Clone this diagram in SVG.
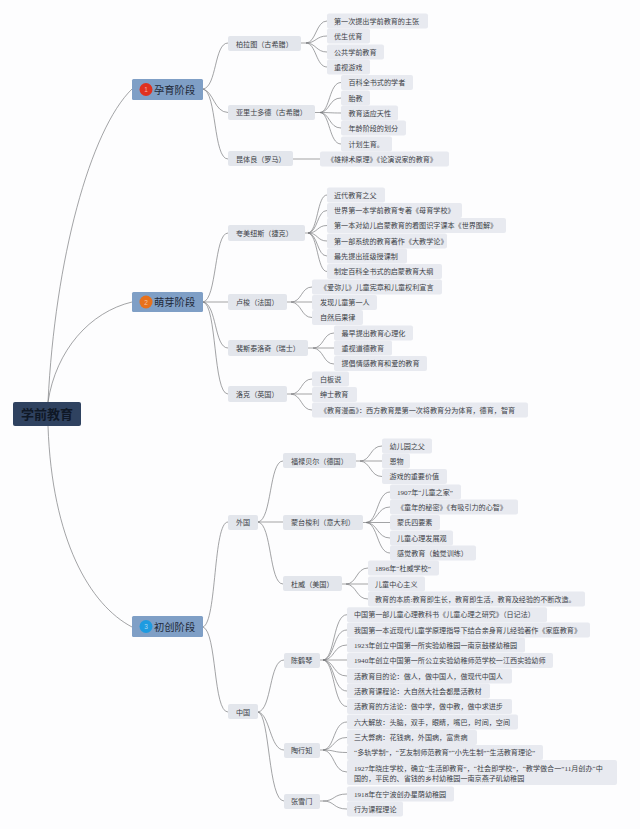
<svg xmlns="http://www.w3.org/2000/svg" width="640" height="829" viewBox="0 0 640 829">
<style>
text{font-family:"Liberation Serif","Noto Sans CJK SC","Noto Sans",sans-serif;font-size:7.1px;fill:#3b3e46}
.l{fill:#e8eaf0}.m{fill:#e3e6ec}.s{fill:#7f9fc6}.r{fill:#2f4260}
.st{font-size:10.3px;fill:#1f2a3a;font-family:"Noto Sans CJK SC",sans-serif}
.rt{font-size:13px;fill:#0f1826;font-weight:700;font-family:"Noto Sans CJK SC",sans-serif}
.n{font-size:6.5px;fill:#fff;fill-opacity:.6;text-anchor:middle;font-family:"Liberation Sans",sans-serif}
#connectors path{fill:none;stroke:#7b7d80;stroke-width:.7}
</style>
<rect width="640" height="829" fill="#fdfdfe"/>
<g id="connectors">
<path d="M48 402C55 260 90 130 132 89M48 402C56 350 90 312 132 302M48 426C52 540 90 605 132 627"/>
<path d="M203 89C217 87 214 43 228 43M203 89C214 92 214 112 228 112.500M203 89C217 92 213 159 228 159"/>
<path d="M203 302C217 300 214 233 228 233M203 302H228M203 302C217 304 214 348 228 348M203 302C217 304 213 394 228 394"/>
<path d="M203 627C217 622 213 522 228 522M203 627C217 632 213 712 228 712"/>
<path d="M301 43H306C316 43 316 21 327 21M306 43C316 43 316 36 327 36M306 43C316 43 316 52 327 52M306 43C316 43 316 67 327 67"/>
<path d="M315 112.500H320C330 112 329 82.500 341 82.500M320 112.500C330 112 329 98 341 98M320 112.500C330 112.500 330 113 341 113M320 112.500C330 113 329 128 341 128M320 112.500C330 113 329 144 341 144"/>
<path d="M293 159H320"/>
<path d="M305 233H308C318 232 317 195 327 195M308 233C318 232 317 210.500 327 210.500M308 233C318 233 317 225.500 327 225.500M308 233C318 233 317 241 327 241M308 233C318 234 317 256 327 256M308 233C318 234 317 271.500 327 271.500"/>
<path d="M287 302H291C302 302 301 287 312 287M291 302H312M291 302C302 303 301 317.500 312 317.500"/>
<path d="M308 348H313C324 348 323 333 334 333M313 348H334M313 348C324 349 323 364 334 364"/>
<path d="M287 394H291C302 394 301 379 312 379M291 394H312M291 394C302 395 301 410 312 410"/>
<path d="M258 522C272 520 269 461 283 461M258 522H283M258 522C272 524 269 584 283 584"/>
<path d="M356 461H360C371 461 370 446 382 446M360 461H382M360 461C371 462 370 476.500 382 476.500"/>
<path d="M363 522.500H366C378 522 377 492 390 492M366 522.500C378 522 377 507 390 507M366 522.500H390M366 522.500C378 523 377 538 390 538M366 522.500C378 523 377 553 390 553"/>
<path d="M342 584H346C357 584 356 568 368 568M346 584H368M346 584C357 585 356 599 368 599"/>
<path d="M258 712C272 710 269 660 284 660M258 712C270 714 270 750 284 750M258 712C270 714 268 801 284 801"/>
<path d="M320 660H323C335 659 333 614.700 347 614.700M323 660C335 659 333 630 347 630M323 660C335 660 333 645 347 645M323 660H347M323 660C335 661 333 676 347 676M323 660C335 661 333 691 347 691M323 660C335 661 333 706.500 347 706.500"/>
<path d="M320 750H323C335 749 333 722 347 722M323 750C335 749 333 737.500 347 737.500M323 750C335 750 333 752.500 347 752.500M323 750C335 751 333 772 347 772"/>
<path d="M320 801H323C335 801 333 794 347 794M323 801C335 801 333 809 347 809"/>
</g>
<g id="root"><rect class="r" x="13" y="402" width="68" height="24" rx="2"/><text class="rt" x="21" y="419">学前教育</text></g>
<g id="s1"><rect class="s" x="132" y="79" width="71" height="21" rx="1.500"/><circle cx="146" cy="89.500" r="6.500" fill="#e0301e"/><text class="n" x="146" y="92">1</text><text class="st" x="154" y="93.500">孕育阶段</text></g>
<g id="s2"><rect class="s" x="132" y="292" width="71" height="20" rx="1.500"/><circle cx="146" cy="302" r="6.500" fill="#e8711c"/><text class="n" x="146" y="304.500">2</text><text class="st" x="154" y="306">萌芽阶段</text></g>
<g id="s3"><rect class="s" x="132" y="616" width="71" height="21" rx="1.500"/><circle cx="146" cy="626.500" r="6.500" fill="#1e9be0"/><text class="n" x="146" y="629">3</text><text class="st" x="154" y="630.500">初创阶段</text></g>
<g id="a1"><rect class="m" x="228" y="36" width="73" height="15" rx="2"/><text x="236" y="46.500">柏拉图（古希腊）</text></g>
<g id="a2"><rect class="m" x="228" y="105" width="87" height="15" rx="2"/><text x="236" y="115">亚里士多德（古希腊）</text></g>
<g id="a3"><rect class="m" x="228" y="151" width="65" height="15" rx="2"/><text x="236" y="161.500">昆体良（罗马）</text></g>
<g id="b1"><rect class="m" x="228" y="225" width="77" height="16" rx="2"/><text x="236" y="235.500">夸美纽斯（捷克）</text></g>
<g id="b2"><rect class="m" x="228" y="294" width="59" height="16" rx="2"/><text x="236" y="304.500">卢梭（法国）</text></g>
<g id="b3"><rect class="m" x="228" y="340" width="80" height="16" rx="2"/><text x="236" y="350.500">裴斯泰洛奇（瑞士）</text></g>
<g id="b4"><rect class="m" x="228" y="386" width="59" height="16" rx="2"/><text x="236" y="396.500">洛克（英国）</text></g>
<g id="c1"><rect class="m" x="228" y="515" width="30" height="15" rx="2"/><text x="236" y="525">外国</text></g>
<g id="c2"><rect class="m" x="228" y="704" width="30" height="15" rx="2"/><text x="236" y="714.500">中国</text></g>
<g id="c11"><rect class="m" x="283" y="453" width="73" height="15" rx="2"/><text x="291" y="463.500">福禄贝尔（德国）</text></g>
<g id="c12"><rect class="m" x="283" y="515" width="80" height="15" rx="2"/><text x="291" y="525">蒙台梭利（意大利）</text></g>
<g id="c13"><rect class="m" x="283" y="576" width="59" height="15" rx="2"/><text x="291" y="586.500">杜威（美国）</text></g>
<g id="c21"><rect class="m" x="284" y="653" width="36" height="15" rx="2"/><text x="291" y="663">陈鹤琴</text></g>
<g id="c22"><rect class="m" x="284" y="743" width="36" height="15" rx="2"/><text x="291" y="753">陶行知</text></g>
<g id="c23"><rect class="m" x="284" y="794" width="36" height="15" rx="2"/><text x="291" y="804">张雪门</text></g>
<g id="l1"><rect class="l" x="327" y="13.500" width="101" height="15" rx="2"/><text x="334" y="23.500">第一次提出学前教育的主张</text></g>
<g id="l2"><rect class="l" x="327" y="28.500" width="43" height="15" rx="2"/><text x="334" y="38.500">优生优育</text></g>
<g id="l3"><rect class="l" x="327" y="44.500" width="57" height="15" rx="2"/><text x="334" y="54.500">公共学前教育</text></g>
<g id="l4"><rect class="l" x="327" y="59.500" width="43" height="15" rx="2"/><text x="334" y="69.500">重视游戏</text></g>
<g id="l5"><rect class="l" x="341" y="75" width="72" height="15" rx="2"/><text x="348.500" y="85">百科全书式的学者</text></g>
<g id="l6"><rect class="l" x="341" y="90.500" width="29" height="15" rx="2"/><text x="348.500" y="100.500">胎教</text></g>
<g id="l7"><rect class="l" x="341" y="105.500" width="57" height="15" rx="2"/><text x="348.500" y="115.500">教育适应天性</text></g>
<g id="l8"><rect class="l" x="341" y="120.500" width="65" height="15" rx="2"/><text x="348.500" y="130.500">年龄阶段的划分</text></g>
<g id="l9"><rect class="l" x="341" y="136.500" width="51" height="15" rx="2"/><text x="348.500" y="146.500">计划生育。</text></g>
<g id="l10"><rect class="l" x="320" y="151.500" width="129" height="15" rx="2"/><text x="327" y="161.500">《雄辩术原理》《论演说家的教育》</text></g>
<g id="l11"><rect class="l" x="327" y="187.500" width="58" height="15" rx="2"/><text x="334" y="197.500">近代教育之父</text></g>
<g id="l12"><rect class="l" x="327" y="203" width="135" height="15" rx="2"/><text x="334" y="213">世界第一本学前教育专著《母育学校》</text></g>
<g id="l13"><rect class="l" x="327" y="218" width="179" height="15" rx="2"/><text x="334" y="228">第一本对幼儿启蒙教育的看图识字课本《世界图解》</text></g>
<g id="l14"><rect class="l" x="327" y="233.500" width="120" height="15" rx="2"/><text x="334" y="243.500">第一部系统的教育著作《大教学论》</text></g>
<g id="l15"><rect class="l" x="327" y="248.500" width="80" height="15" rx="2"/><text x="334" y="258.500">最先提出班级授课制</text></g>
<g id="l16"><rect class="l" x="327" y="264" width="115" height="15" rx="2"/><text x="334" y="274">制定百科全书式的启蒙教育大纲</text></g>
<g id="l17"><rect class="l" x="312" y="279.500" width="130" height="15" rx="2"/><text x="320" y="289.500">《爱弥儿》儿童宪章和儿童权利宣言</text></g>
<g id="l18"><rect class="l" x="312" y="295" width="65" height="15" rx="2"/><text x="320" y="305">发现儿童第一人</text></g>
<g id="l19"><rect class="l" x="312" y="310" width="51" height="15" rx="2"/><text x="320" y="320">自然后果律</text></g>
<g id="l20"><rect class="l" x="334" y="325.500" width="79" height="15" rx="2"/><text x="341.500" y="335.500">最早提出教育心理化</text></g>
<g id="l21"><rect class="l" x="334" y="340.500" width="58" height="15" rx="2"/><text x="341.500" y="350.500">重视道德教育</text></g>
<g id="l22"><rect class="l" x="334" y="356" width="93" height="15" rx="2"/><text x="341.500" y="366">提倡情感教育和爱的教育</text></g>
<g id="l23"><rect class="l" x="312" y="371.500" width="37" height="15" rx="2"/><text x="320" y="381.500">白板说</text></g>
<g id="l24"><rect class="l" x="312" y="387" width="45" height="15" rx="2"/><text x="320" y="397">绅士教育</text></g>
<g id="l25"><rect class="l" x="312" y="402.500" width="216" height="15" rx="2"/><text x="320" y="412.500">《教育漫画》：西方教育是第一次将教育分为体育，德育，智育</text></g>
<g id="l26"><rect class="l" x="382" y="438.500" width="50" height="15" rx="2"/><text x="389.500" y="448.500">幼儿园之父</text></g>
<g id="l27"><rect class="l" x="382" y="453.500" width="28" height="15" rx="2"/><text x="389.500" y="463.500">恩物</text></g>
<g id="l28"><rect class="l" x="382" y="469" width="65" height="15" rx="2"/><text x="389.500" y="479">游戏的重要价值</text></g>
<g id="l29"><rect class="l" x="390" y="484.500" width="71" height="15" rx="2"/><text x="397" y="494.500">1907年“儿童之家”</text></g>
<g id="l30"><rect class="l" x="390" y="499.500" width="128" height="15" rx="2"/><text x="397" y="509.500">《童年的秘密》《有吸引力的心智》</text></g>
<g id="l31"><rect class="l" x="390" y="515" width="50" height="15" rx="2"/><text x="397" y="525">蒙氏四要素</text></g>
<g id="l32"><rect class="l" x="390" y="530.500" width="63" height="15" rx="2"/><text x="397" y="540.500">儿童心理发展观</text></g>
<g id="l33"><rect class="l" x="390" y="545.500" width="86" height="15" rx="2"/><text x="397" y="555.500">感觉教育（触觉训练）</text></g>
<g id="l34"><rect class="l" x="368" y="560.500" width="71" height="15" rx="2"/><text x="375" y="570.500">1896年“杜威学校”</text></g>
<g id="l35"><rect class="l" x="368" y="576.500" width="57" height="15" rx="2"/><text x="375" y="586.500">儿童中心主义</text></g>
<g id="l36"><rect class="l" x="368" y="591.500" width="217" height="15" rx="2"/><text x="375" y="601.500">教育的本质:教育即生长，教育即生活，教育及经验的不断改造。</text></g>
<g id="l37"><rect class="l" x="347" y="607.200" width="200" height="15" rx="2"/><text x="354" y="617.200">中国第一部儿童心理教科书《儿童心理之研究》（日记法）</text></g>
<g id="l38"><rect class="l" x="347" y="622.500" width="243" height="15" rx="2"/><text x="354" y="632.500">我国第一本近现代儿童学原理指导下结合亲身育儿经验著作《家庭教育》</text></g>
<g id="l39"><rect class="l" x="347" y="637.500" width="178" height="15" rx="2"/><text x="354" y="647.500">1923年创立中国第一所实验幼稚园一南京鼓楼幼稚园</text></g>
<g id="l40"><rect class="l" x="347" y="653" width="206" height="15" rx="2"/><text x="354" y="663">1940年创立中国第一所公立实验幼稚师范学校一江西实验幼师</text></g>
<g id="l41"><rect class="l" x="347" y="668.500" width="165" height="15" rx="2"/><text x="354" y="678.500">活教育目的论：做人，做中国人，做现代中国人</text></g>
<g id="l42"><rect class="l" x="347" y="683.500" width="143" height="15" rx="2"/><text x="354" y="693.500">活教育课程论：大自然大社会都是活教材</text></g>
<g id="l43"><rect class="l" x="347" y="699" width="165" height="15" rx="2"/><text x="354" y="709">活教育的方法论：做中学，做中教，做中求进步</text></g>
<g id="l44"><rect class="l" x="347" y="714.500" width="171" height="15" rx="2"/><text x="354" y="724.500">六大解放：头脑，双手，眼睛，嘴巴，时间，空间</text></g>
<g id="l45"><rect class="l" x="347" y="730" width="130" height="15" rx="2"/><text x="354" y="740">三大弊病：花钱病，外国病，富贵病</text></g>
<g id="l46"><rect class="l" x="347" y="745" width="196" height="15" rx="2"/><text x="354" y="755">“多轨学制”，“艺友制师范教育”“小先生制”“生活教育理论”</text></g>
<g id="l47"><rect class="l" x="347" y="760" width="270" height="25" rx="2"/><text x="354" y="771">1927年晓庄学校，确立“生活即教育”，“社会即学校”，“教学做合一”11月创办“中</text><text x="354" y="781">国的，平民的、省钱的乡村幼稚园一南京燕子矶幼稚园</text></g>
<g id="l48"><rect class="l" x="347" y="786.500" width="107" height="15" rx="2"/><text x="354" y="796.500">1918年在宁波创办星荫幼稚园</text></g>
<g id="l49"><rect class="l" x="347" y="801.500" width="56" height="15" rx="2"/><text x="354" y="811.500">行为课程理论</text></g>
</svg>
